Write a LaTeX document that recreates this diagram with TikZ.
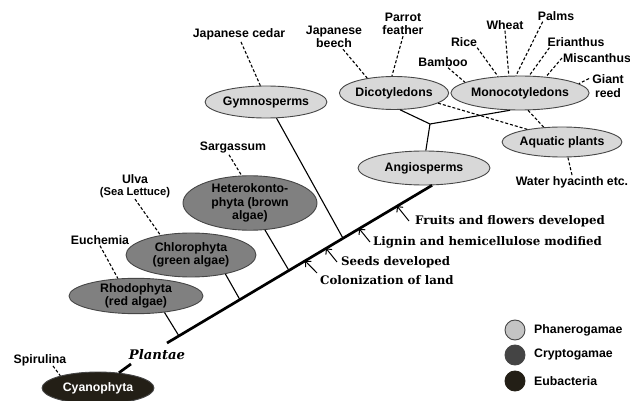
\documentclass[tikz,border=0pt]{standalone}
\usepackage{fontspec}
\setmainfont{Liberation Sans}
\newfontfamily\evfont{DejaVu Serif}
\usetikzlibrary{shapes.geometric,arrows.meta,calc}
\definecolor{phanfill}{RGB}{216,216,216}
\definecolor{crypfill}{RGB}{128,128,128}
\definecolor{eubfill}{RGB}{35,31,22}
\definecolor{legphan}{RGB}{196,196,196}
\definecolor{legcryp}{RGB}{68,68,68}
\definecolor{edge}{RGB}{70,70,70}
\begin{document}
\begin{tikzpicture}[x=1pt,y=-1pt,
  lbl/.style={font=\fontsize{12.3}{13.5}\selectfont\bfseries, inner sep=1pt, align=center},
  ell/.style={ellipse, draw=edge, line width=0.9pt, inner sep=0pt, align=center,
              font=\fontsize{12.3}{13.5}\selectfont\bfseries},
  phan/.style={ell, fill=phanfill},
  cryp/.style={ell, fill=crypfill},
  eub/.style={ell, fill=eubfill, text=white},
  dl/.style={dash pattern=on 3pt off 2pt, line width=1.1pt},
  br/.style={line width=1.1pt},
  trunk/.style={line width=2.7pt},
  evt/.style={font=\evfont\bfseries\fontsize{11.8}{13}\selectfont, anchor=west, inner ysep=0pt},
  evarrow/.style={line width=1pt, -{Straight Barb[length=4pt,width=8pt]}},
  legc/.style={circle, minimum size=20pt, inner sep=0pt, line width=0.9pt}
]
\useasboundingbox (0,0) rectangle (630,401);

% ellipses
\node[eub, minimum width=112pt, minimum height=32pt] (cyano) at (98,388) {Cyanophyta};
\node[cryp, minimum width=134pt, minimum height=35pt] (rhodo) at (136,296) {Rhodophyta\\(red algae)};
\node[cryp, minimum width=130pt, minimum height=44pt] (chloro) at (191,255) {Chlorophyta\\(green algae)};
\node[cryp, minimum width=134pt, minimum height=50pt] (hetero) at (250,203) {Heterokonto-\\phyta (brown\\algae)};
\node[phan, minimum width=110pt, minimum height=32pt] (gymno) at (266,102) {Gymnosperms};
\node[phan, minimum width=132pt, minimum height=34pt] (angio) at (424,168) {Angiosperms};
\node[phan, minimum width=104pt, minimum height=33pt] (dicot) at (394,93) {Dicotyledons};
\node[phan, minimum width=132pt, minimum height=34pt] (mono) at (520,93) {Monocotyledons};
\node[phan, minimum width=116pt, minimum height=30pt] (aqua) at (562,142) {Aquatic plants};

% trunk
\coordinate (t0) at (167,343);
\draw[trunk] (t0) -- (angio.-65);
\coordinate (b1) at ($(t0)!0.045!(angio.-65)$);
\coordinate (b2) at ($(t0)!0.275!(angio.-65)$);
\coordinate (b3) at ($(t0)!0.460!(angio.-65)$);
\coordinate (b4) at ($(t0)!0.664!(angio.-65)$);
\coordinate (a1) at ($(t0)!0.521!(angio.-65)$);
\coordinate (a2) at ($(t0)!0.600!(angio.-65)$);
\coordinate (a3) at ($(t0)!0.725!(angio.-65)$);
\coordinate (a4) at ($(t0)!0.868!(angio.-65)$);
\coordinate (pl) at (131,364);
\draw[trunk] (cyano) -- (pl);
\node[font=\evfont\bfseries\itshape\fontsize{13.2}{14}\selectfont, inner sep=0pt] (plantae) at (157,355) {Plantae};

% branches
\draw[br] (rhodo.-30) -- (b1);
\draw[br] (chloro.-29) -- (b2);
\draw[br] (hetero.-61) -- (b3);
\draw[br] (gymno.-57) -- (b4);
\coordinate (jn) at (430,124);
\draw[br] (dicot.-70) -- (jn) -- (mono.-120);
\draw[br] (jn) -- (angio.84);
\draw[dl] (dicot.-13) -- (aqua.160);
\draw[dl] (mono.-65) -- (aqua.141);

% labels
\node[lbl] (spir) at (40,360) {Spirulina};
\node[lbl] (euch) at (100,240) {Euchemia};
\node[lbl] (ulva) at (135,186) {Ulva\\[-1pt]{\fontsize{11.2}{12}\selectfont (Sea Lettuce)}};
\node[lbl] (sarg) at (233,148) {Sargassum};
\node[lbl] (cedar) at (239,34) {Japanese cedar};
\node[lbl] (beech) at (334,37) {Japanese\\beech};
\node[lbl] (parrot) at (403,24) {Parrot\\feather};
\node[lbl] (bamboo) at (443,62) {Bamboo};
\node[lbl] (rice) at (464,42) {Rice};
\node[lbl] (wheat) at (505,25) {Wheat};
\node[lbl] (palms) at (556,16) {Palms};
\node[lbl] (erian) at (576,42) {Erianthus};
\node[lbl, anchor=west] (misc) at (562,58) {Miscanthus};
\node[lbl] (giant) at (608,86) {Giant\\reed};
\node[lbl] (water) at (572,182) {Water hyacinth etc.};

\draw[dl] ([xshift=13pt,yshift=1pt]spir.south) -- (cyano.162);
\draw[dl] (euch.south) -- (rhodo.136);
\draw[dl] (ulva.south) -- (chloro.147);
\draw[dl] ([xshift=-4pt]sarg.south) -- (hetero.107);
\draw[dl] ([xshift=2pt,yshift=-1pt]cedar.south) -- (gymno.109);
\draw[dl] ([xshift=9pt]beech.south) -- (dicot.151);
\draw[dl] (parrot.south) -- (dicot.97);
\draw[dl] ([xshift=5pt]bamboo.south) -- (mono.169);
\draw[dl] ([xshift=-1pt]rice.south east) -- (mono.143);
\draw[dl] (wheat.south) -- (mono.123);
\draw[dl] ([xshift=6pt]palms.south west) -- (mono.103);
\draw[dl] ([xshift=3pt]erian.south west) -- (mono.62);
\draw[dl] (misc.west) -- (mono.32);
\draw[dl] ([yshift=-5pt,xshift=-2pt]giant.north west) -- (mono.9);
\draw[dl] (water.north) -- (aqua.-69);

% events
\node[evt, inner xsep=6pt] (fr) at (409,221) {Fruits and flowers developed};
\node[evt, inner xsep=3pt] (lig) at (370,242) {Lignin and hemicellulose modified};
\node[evt, inner xsep=4pt] (seed) at (337,262) {Seeds developed};
\node[evt, inner xsep=3pt, anchor=north west, inner ysep=2pt] (col) at (317,273) {Colonization of land};
\draw[evarrow] (fr.west) -- (a4);
\draw[evarrow] (lig.west) -- (a3);
\draw[evarrow] (seed.west) -- (a2);
\draw[evarrow] (col.north west) -- (a1);

% legend
\node[legc, fill=legphan, draw=edge] (lp) at (515,330) {};
\node[legc, fill=legcryp, draw=legcryp] (lc) at (515,355) {};
\node[legc, fill=eubfill, draw=eubfill] (le) at (515,381) {};
\node[lbl, anchor=west] (lpt) at (533,330) {Phanerogamae};
\node[lbl, anchor=west] (lct) at (533,355) {Cryptogamae};
\node[lbl, anchor=west] (let) at (533,381) {Eubacteria};
\end{tikzpicture}
\end{document}
